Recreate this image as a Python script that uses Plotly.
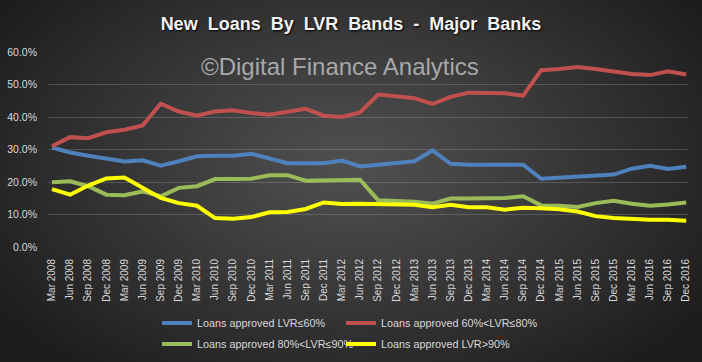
import base64, struct, zlib
import numpy as np
import plotly.graph_objects as go

# ---------------- data ----------------
quarters = [f"{m} {y}" for y in range(2008, 2017) for m in ["Mar", "Jun", "Sep", "Dec"]]

lvr_le60 = [30.6, 29.1, 28.1, 27.1, 26.3, 26.7, 25.0, 26.4, 27.9,
            28.1, 28.1, 28.7, 27.1, 25.8, 25.8, 25.8, 26.6, 24.8,
            25.3, 25.8, 26.4, 29.7, 25.6, 25.3, 25.3, 25.6, 25.3,
            21.0, 21.3, 21.4, 21.9, 22.3, 24.1, 25.0, 24.0, 24.7]
lvr_60_80 = [31.0, 33.8, 33.5, 35.3, 36.1, 37.4, 44.1, 41.7, 40.4,
             41.7, 42.1, 41.2, 40.7, 41.5, 42.5, 40.4, 40.0, 41.4,
             46.9, 46.4, 45.8, 44.0, 46.2, 47.5, 47.3, 47.3, 46.6,
             54.4, 54.8, 55.4, 54.8, 54.1, 53.2, 52.9, 54.1, 53.1]
lvr_80_90 = [19.9, 20.2, 18.7, 16.1, 15.9, 17.1, 15.6, 18.2, 18.7,
             20.9, 20.9, 21.0, 22.1, 22.1, 20.4, 20.4, 20.7, 20.7,
             14.4, 14.3, 13.9, 13.3, 14.9, 14.9, 14.9, 15.1, 15.6,
             12.8, 12.7, 12.3, 13.5, 14.2, 13.3, 12.7, 13.1, 13.7]
lvr_gt90 = [17.8, 16.1, 18.9, 21.1, 21.4, 18.2, 15.1, 13.5, 12.7,
            8.9, 8.7, 9.2, 10.7, 10.8, 11.7, 13.7, 13.2, 13.3,
            13.3, 13.2, 13.0, 12.2, 13.0, 12.2, 12.2, 11.5, 12.1,
            11.9, 11.6, 10.9, 9.5, 8.9, 8.6, 8.4, 8.4, 8.1]

series_names = ["Loans approved LVR≤60%", "Loans approved 60%<LVR≤80%",
                "Loans approved 80%<LVR≤90%", "Loans approved LVR>90%"]
series_values = [lvr_le60, lvr_60_80, lvr_80_90, lvr_gt90]
series_colors = ["#4f81bd", "#c0504d", "#9bbb59", "#ffff00"]

title_text = "New Loans By LVR Bands - Major Banks"
watermark_text = "©Digital Finance Analytics"

# ---------------- layout geometry ----------------
W, H = 702, 362
ML, MR, MT, MB = 48, 14, 52, 115
PW, PH = W - ML - MR, H - MT - MB


def px_x(px):
    return (px - ML) / PW


def px_y(py):
    return (H - MB - py) / PH


# ---------------- background gradient image ----------------
def make_bg(w, h):
    yy, xx = np.mgrid[0:h, 0:w].astype(float)
    cx, cy = w * 0.5, h * 0.45
    d = np.sqrt(((xx - cx) / (w * 0.62)) ** 2 + ((yy - cy) / (h * 0.75)) ** 2)
    t = np.clip(d, 0, 1) ** 1.1
    c = 80 * (1 - t) + 28 * t
    img = np.repeat(c[:, :, None], 3, axis=2).astype(np.uint8)
    raw = b"".join(b"\x00" + img[r].tobytes() for r in range(h))

    def chunk(tag, data):
        return (struct.pack(">I", len(data)) + tag + data +
                struct.pack(">I", zlib.crc32(tag + data) & 0xffffffff))
    png = (b"\x89PNG\r\n\x1a\n" +
           chunk(b"IHDR", struct.pack(">IIBBBBB", w, h, 8, 2, 0, 0, 0)) +
           chunk(b"IDAT", zlib.compress(raw, 9)) + chunk(b"IEND", b""))
    return "data:image/png;base64," + base64.b64encode(png).decode()


bg_src = make_bg(W, H)

fig = go.Figure()
legend_ids = ["legend", "legend2", "legend3", "legend4"]
for name, vals, col, lg in zip(series_names, series_values, series_colors, legend_ids):
    fig.add_trace(go.Scatter(x=quarters, y=vals, name=name, mode="lines",
                             line=dict(color=col, width=4), legend=lg,
                             hoverinfo="skip"))

leg_font = dict(family="Liberation Sans, Arial, sans-serif", size=10.8, color="#d9d9d9")
leg_pos = [(157, 323), (341, 323), (157, 344), (341, 344)]
legends = {}
for lg, (lx, ly) in zip(legend_ids, leg_pos):
    legends[lg] = dict(x=px_x(lx), y=px_y(ly), xanchor="left", yanchor="middle",
                       orientation="h", bgcolor="rgba(0,0,0,0)", borderwidth=0,
                       font=leg_font, itemwidth=30)

# wider word spacing as in the original title
title_display = title_text.replace(" ", "\u00a0 ")

fig.update_layout(
    width=W, height=H, autosize=False,
    margin=dict(l=ML, r=MR, t=MT, b=MB, pad=0, autoexpand=False),
    paper_bgcolor="#333333", plot_bgcolor="rgba(0,0,0,0)",
    showlegend=True,
    title=dict(text=title_display,
               x=0.5, xref="container", xanchor="center",
               y=1 - 24 / H, yref="container", yanchor="middle",
               font=dict(family="Liberation Sans, Arial, sans-serif", size=18,
                         color="#f2f2f2", weight="bold", shadow="1px 1px 2px #000000")),
    xaxis=dict(type="category", range=[-0.22, 35.1], showgrid=False, zeroline=False,
               showline=False, ticks="", tickangle=-90, ticklabelstandoff=9,
               automargin=False,
               tickfont=dict(family="Liberation Sans, Arial, sans-serif", size=10,
                             color="#d9d9d9")),
    yaxis=dict(range=[0, 60], dtick=10, tickformat=".1f", ticksuffix="%",
               showgrid=True, gridcolor="rgba(255,255,255,0.16)", gridwidth=1,
               zeroline=False, showline=False, ticks="", ticklabelstandoff=10,
               automargin=False,
               tickfont=dict(family="Liberation Sans, Arial, sans-serif", size=10.5,
                             color="#d9d9d9")),
    images=[dict(source=bg_src, xref="paper", yref="paper",
                 x=px_x(0), y=px_y(0), sizex=W / PW, sizey=H / PH,
                 xanchor="left", yanchor="top", sizing="stretch", layer="below")],
    annotations=[dict(text=watermark_text, xref="paper", yref="paper",
                      x=px_x(340), y=px_y(66), xanchor="center", yanchor="middle",
                      showarrow=False,
                      font=dict(family="Liberation Sans, Arial, sans-serif", size=24,
                                color="#a8a8a8"))],
    **legends,
)

fig.write_html("out.html",
               config={"displayModeBar": False, "staticPlot": True},
               post_script="document.body.style.margin='0';"
                           "document.body.style.overflow='hidden';")
